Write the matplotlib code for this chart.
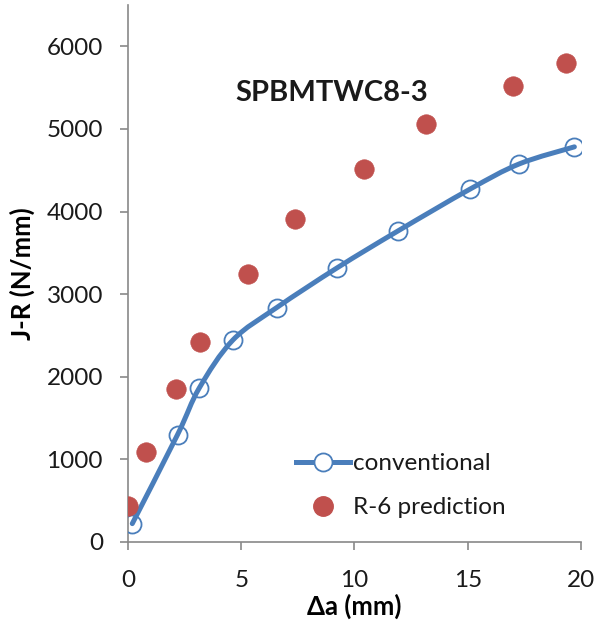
import numpy as np
import matplotlib.pyplot as plt
from matplotlib.path import Path
from matplotlib.patches import PathPatch
from matplotlib.lines import Line2D

# conventional J-R curve (open circles + smoothed line)
conv_da = [0.19, 2.19, 3.15, 4.63, 6.57, 9.25, 11.92, 15.08, 17.28, 19.71]
conv_jr = [222, 1300, 1865, 2444, 2838, 3321, 3765, 4268, 4577, 4783]

# R-6 prediction (filled circles)
r6_da = [0.01, 0.78, 2.13, 3.20, 5.29, 7.38, 10.40, 13.16, 16.98, 19.35]
r6_jr = [435, 1087, 1848, 2424, 3249, 3906, 4510, 5057, 5516, 5797]

BLUE = '#4A7EBB'
RED = '#C0504D'
GREY = '#898989'

plt.rcParams['font.family'] = ['Lato', 'DejaVu Sans']


def smooth_path(xs, ys):
    # Catmull-Rom style bezier through the points (like Excel "smoothed line")
    pts = np.column_stack([xs, ys]).astype(float)
    verts = [pts[0]]
    codes = [Path.MOVETO]
    n = len(pts)
    for i in range(n - 1):
        p0 = pts[i - 1] if i > 0 else pts[i]
        p1 = pts[i]
        p2 = pts[i + 1]
        p3 = pts[i + 2] if i + 2 < n else pts[i + 1]
        c1 = p1 + (p2 - p0) / 6.0
        c2 = p2 - (p3 - p1) / 6.0
        verts += [c1, c2, p2]
        codes += [Path.CURVE4] * 3
    return Path(verts, codes)


fig = plt.figure(figsize=(6.08, 6.28), dpi=100)
ax = fig.add_axes([0.2105, 0.137, 0.745, 0.855])

ax.add_patch(PathPatch(smooth_path(conv_da, conv_jr), fill=False,
                       edgecolor=BLUE, lw=3.6, capstyle='round', zorder=3))
ax.plot(conv_da, conv_jr, ls='none', marker='o', ms=13, mfc='none',
        mec=BLUE, mew=1.3, zorder=4)
ax.plot(r6_da, r6_jr, ls='none', marker='o', ms=14, mfc=RED, mec=RED,
        mew=0.5, zorder=4)

ax.set_xlim(0, 20)
ax.set_ylim(0, 6500)
ax.set_xticks([0, 5, 10, 15, 20])
ax.set_yticks(range(0, 6001, 1000))
for s in ['top', 'right']:
    ax.spines[s].set_visible(False)
for s in ['left', 'bottom']:
    ax.spines[s].set_color(GREY)
    ax.spines[s].set_linewidth(1.2)
ax.tick_params(direction='out', length=6, width=1.2, color=GREY,
               labelsize=17.5, labelcolor='#1a1a1a')
ax.tick_params(axis='y', pad=12)
ax.tick_params(axis='x', pad=14)

ax.set_xlabel('Δa (mm)', fontsize=18.5, fontweight='bold', labelpad=2)
ax.set_ylabel('J-R (N/mm)', fontsize=18.5, fontweight='bold', labelpad=8)

ax.text(9.0, 5430, 'SPBMTWC8-3', fontsize=21, fontweight='bold',
        ha='center', va='center', color='#1a1a1a')

handles = [
    Line2D([], [], color=BLUE, lw=3.6, marker='o', ms=13, mfc='white',
           mec=BLUE, mew=1.3),
    Line2D([], [], ls='none', marker='o', ms=14, mfc=RED, mec=RED),
]
ax.legend(handles, ['conventional', 'R-6 prediction'], loc='center left',
          bbox_to_anchor=(0.375 - 0.025, 0.105), frameon=False, fontsize=17.5,
          handlelength=2.2, handletextpad=0.15, labelspacing=0.95,
          borderaxespad=0, labelcolor='#1a1a1a')

fig.savefig('out.png', dpi=100)
